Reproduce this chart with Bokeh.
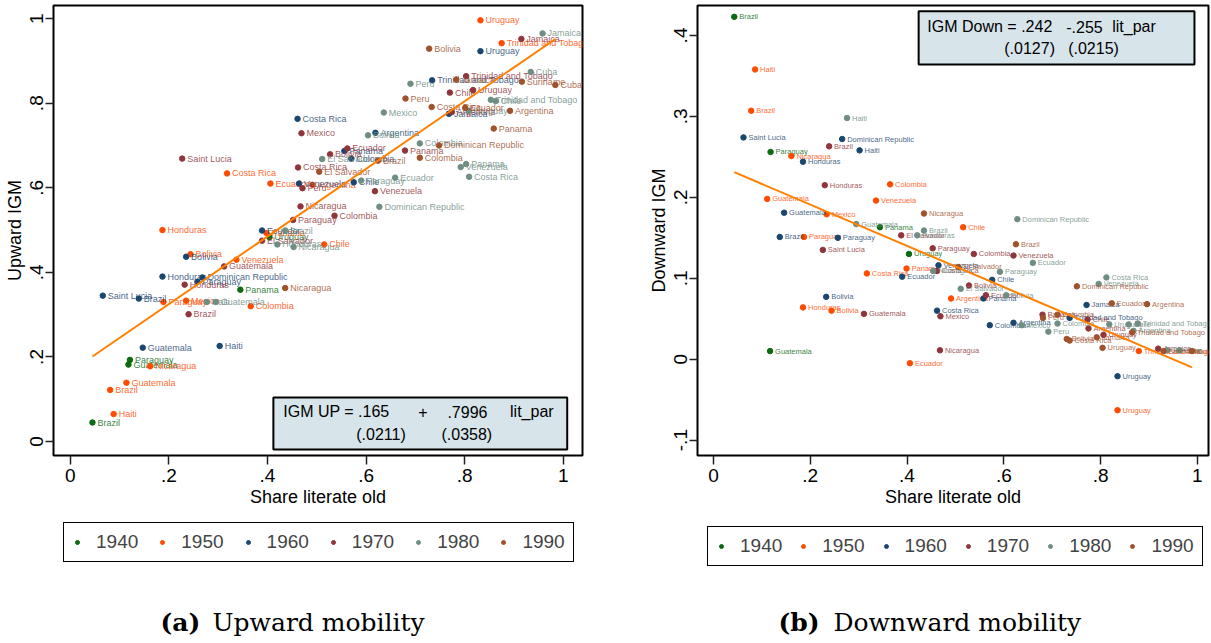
from bokeh.plotting import figure
from bokeh.models import (ColumnDataSource, Legend, LegendItem, FixedTicker,
                          Label, BoxAnnotation, Range1d)
from bokeh.layouts import row, column
from bokeh.core.properties import value
from bokeh.embed import file_html
from bokeh.resources import INLINE

# ---------------- data ----------------
decades = [1940, 1950, 1960, 1970, 1980, 1990]
decade_colors = ["#0b6a12", "#ff4b00", "#1a476f", "#90353b", "#6e8e84", "#a0522d"]

x_ticks = [0, 0.2, 0.4, 0.6, 0.8, 1.0]
x_tick_labels = ["0", ".2", ".4", ".6", ".8", "1"]
up_ticks = [0, 0.2, 0.4, 0.6, 0.8, 1.0]
up_tick_labels = ["0", ".2", ".4", ".6", ".8", "1"]
down_ticks = [-0.1, 0, 0.1, 0.2, 0.3, 0.4]
down_tick_labels = ["-.1", "0", ".1", ".2", ".3", ".4"]

up_coef = [0.165, 0.7996]
down_coef = [0.242, -0.255]

# Upward mobility panel
up_country = [
    "Brazil", "Guatemala", "Paraguay", "Panama", "Uruguay",
    "Haiti", "Brazil", "Guatemala", "Nicaragua", "Paraguay", "Mexico", "Honduras",
    "Bolivia", "Venezuela", "Colombia", "Panama", "Chile", "Costa Rica", "Ecuador",
    "Argentina", "Trinidad and Tobago", "Uruguay",
    "Saint Lucia", "Brazil", "Guatemala", "Honduras", "Bolivia", "Paraguay",
    "Dominican Republic", "Haiti", "Ecuador", "Venezuela", "Costa Rica", "Panama",
    "Colombia", "Chile", "Argentina", "Trinidad and Tobago", "Jamaica", "Uruguay",
    "Saint Lucia", "Brazil", "Honduras", "Guatemala", "El Salvador", "Paraguay",
    "Nicaragua", "Costa Rica", "Mexico", "Peru", "Bolivia", "Colombia", "Ecuador",
    "Venezuela", "Panama", "Chile", "Argentina", "Trinidad and Tobago", "Uruguay",
    "Jamaica",
    "Haiti", "Guatemala", "Honduras", "Brazil", "Nicaragua", "El Salvador",
    "Paraguay", "Bolivia", "Dominican Republic", "Mexico", "Ecuador", "Peru",
    "Colombia", "Venezuela", "Panama", "Costa Rica", "Uruguay",
    "Trinidad and Tobago", "Chile", "Cuba", "Jamaica",
    "Nicaragua", "El Salvador", "Brazil", "Peru", "Colombia", "Bolivia",
    "Costa Rica", "Dominican Republic", "Jamaica", "Ecuador", "Panama",
    "Argentina", "Suriname", "Cuba",
]
up_decade = ([1940] * 5 + [1950] * 17 + [1960] * 18 + [1970] * 20
             + [1980] * 21 + [1990] * 14)
up_lit = [
    0.045, 0.118, 0.121, 0.345, 0.404,
    0.088, 0.081, 0.114, 0.162, 0.189, 0.235, 0.187, 0.244, 0.337, 0.366, 0.398,
    0.515, 0.318, 0.406, 0.491, 0.875, 0.832,
    0.066, 0.139, 0.147, 0.187, 0.235, 0.258, 0.268, 0.303, 0.389, 0.464, 0.461,
    0.556, 0.570, 0.575, 0.619, 0.734, 0.768, 0.832,
    0.227, 0.240, 0.232, 0.312, 0.389, 0.452, 0.467, 0.462, 0.469, 0.471, 0.527,
    0.536, 0.562, 0.618, 0.679, 0.770, 0.774, 0.803, 0.817, 0.915,
    0.277, 0.295, 0.420, 0.436, 0.453, 0.511, 0.590, 0.604, 0.627, 0.636, 0.659,
    0.690, 0.709, 0.792, 0.803, 0.809, 0.808, 0.853, 0.863, 0.934, 0.958,
    0.436, 0.505, 0.624, 0.680, 0.709, 0.728, 0.733, 0.748, 0.783, 0.801, 0.859,
    0.892, 0.916, 0.984,
]
up_igm = [
    0.045, 0.182, 0.193, 0.359, 0.483,
    0.065, 0.122, 0.139, 0.178, 0.330, 0.333, 0.500, 0.443, 0.430, 0.320, 0.493,
    0.466, 0.634, 0.610, 0.607, 0.942, 0.996,
    0.345, 0.338, 0.222, 0.390, 0.437, 0.378, 0.388, 0.226, 0.499, 0.610, 0.763,
    0.687, 0.669, 0.613, 0.730, 0.854, 0.775, 0.923,
    0.669, 0.301, 0.371, 0.414, 0.475, 0.524, 0.556, 0.648, 0.729, 0.599, 0.679,
    0.534, 0.693, 0.592, 0.688, 0.825, 0.779, 0.864, 0.831, 0.952,
    0.330, 0.330, 0.466, 0.499, 0.460, 0.668, 0.617, 0.724, 0.555, 0.778, 0.624,
    0.846, 0.705, 0.649, 0.656, 0.626, 0.782, 0.808, 0.805, 0.874, 0.965,
    0.363, 0.638, 0.664, 0.811, 0.671, 0.929, 0.791, 0.700, 0.856, 0.789, 0.740,
    0.782, 0.851, 0.843,
]

# Downward mobility panel
down_country = [
    "Brazil", "Paraguay", "Guatemala", "Panama", "Uruguay",
    "Haiti", "Brazil", "Nicaragua", "Guatemala", "Paraguay", "Mexico", "Honduras",
    "Bolivia", "Venezuela", "Colombia", "Costa Rica", "Panama", "Ecuador",
    "Argentina", "Chile", "Trinidad and Tobago", "Uruguay",
    "Saint Lucia", "Brazil", "Guatemala", "Honduras", "Bolivia", "Paraguay",
    "Dominican Republic", "Haiti", "Ecuador", "Costa Rica", "Venezuela", "Panama",
    "Colombia", "Chile", "Argentina", "Trinidad and Tobago", "Jamaica", "Uruguay",
    "Saint Lucia", "Brazil", "Honduras", "Guatemala", "El Salvador", "Paraguay",
    "Costa Rica", "Mexico", "Nicaragua", "Bolivia", "Colombia", "Ecuador",
    "Venezuela", "Panama", "Chile", "Argentina", "Uruguay", "Jamaica",
    "Haiti", "Guatemala", "Honduras", "Brazil", "Nicaragua", "El Salvador",
    "Paraguay", "Bolivia", "Dominican Republic", "Mexico", "Ecuador", "Peru",
    "Colombia", "Venezuela", "Costa Rica", "Trinidad and Tobago", "Uruguay",
    "Chile", "Argentina", "Jamaica", "Cuba",
    "Nicaragua", "El Salvador", "Brazil", "Peru", "Colombia", "Bolivia",
    "Costa Rica", "Dominican Republic", "Jamaica", "Uruguay", "Ecuador",
    "Trinidad and Tobago", "Argentina", "Suriname", "Cuba",
]
down_decade = ([1940] * 5 + [1950] * 17 + [1960] * 18 + [1970] * 18
               + [1980] * 21 + [1990] * 15)
down_lit = [
    0.043, 0.118, 0.117, 0.344, 0.404,
    0.086, 0.078, 0.161, 0.111, 0.187, 0.234, 0.185, 0.244, 0.336, 0.365, 0.317,
    0.399, 0.406, 0.491, 0.516, 0.879, 0.835,
    0.062, 0.137, 0.146, 0.185, 0.233, 0.257, 0.266, 0.302, 0.390, 0.462, 0.465,
    0.558, 0.571, 0.576, 0.620, 0.736, 0.771, 0.835,
    0.226, 0.239, 0.230, 0.311, 0.388, 0.453, 0.462, 0.469, 0.468, 0.528, 0.538,
    0.563, 0.620, 0.680, 0.773, 0.775, 0.806, 0.919,
    0.276, 0.295, 0.421, 0.435, 0.454, 0.511, 0.592, 0.605, 0.628, 0.637, 0.660,
    0.692, 0.711, 0.796, 0.812, 0.877, 0.818, 0.858, 0.868, 0.937, 0.963,
    0.435, 0.506, 0.625, 0.681, 0.711, 0.730, 0.736, 0.751, 0.792, 0.804, 0.823,
    0.865, 0.896, 0.930, 0.989,
]
down_igm = [
    0.423, 0.256, 0.010, 0.163, 0.130,
    0.358, 0.307, 0.251, 0.198, 0.151, 0.179, 0.064, 0.060, 0.196, 0.216, 0.106,
    0.112, -0.005, 0.075, 0.163, 0.010, -0.063,
    0.274, 0.151, 0.181, 0.244, 0.077, 0.150, 0.272, 0.258, 0.102, 0.060, 0.116,
    0.075, 0.042, 0.098, 0.045, 0.051, 0.067, -0.021,
    0.135, 0.263, 0.215, 0.056, 0.153, 0.137, 0.109, 0.053, 0.011, 0.091, 0.130,
    0.079, 0.128, 0.055, 0.049, 0.038, 0.030, 0.013,
    0.298, 0.167, 0.153, 0.159, 0.109, 0.087, 0.108, 0.079, 0.173, 0.042, 0.119,
    0.034, 0.044, 0.093, 0.101, 0.044, 0.043, 0.043, 0.035, 0.011, 0.011,
    0.180, 0.114, 0.142, 0.051, 0.055, 0.025, 0.023, 0.090, 0.027, 0.014, 0.069,
    0.033, 0.068, 0.010, 0.010,
]

# ---------------- styling ----------------
AXFONT = "Liberation Sans"
PTFONT = "Liberation Sans"
SERIF = "DejaVu Serif"
FIG_H = 515          # main panels (plot + x axis)
FRAME_TOP = 5
FRAME_BOTTOM = 455
STRIP_H = 128        # legends + captions


def make_panel(country, decade, lit, igm, coef, xr, yr, yticks, ylabels, ylab,
               width, bl, br, label_size, box, box_texts):
    p = figure(width=width, height=FIG_H, x_range=Range1d(*xr), y_range=Range1d(*yr),
               output_backend="svg", toolbar_location=None,
               min_border_left=bl, min_border_right=br, min_border_top=FRAME_TOP,
               min_border_bottom=FIG_H - FRAME_BOTTOM)
    p.grid.visible = False
    p.outline_line_color = "black"
    p.outline_line_width = 2
    p.background_fill_color = "white"
    p.border_fill_color = "white"

    sources = []
    for d, c in zip(decades, decade_colors):
        idx = [i for i, v in enumerate(decade) if v == d]
        src = ColumnDataSource(dict(x=[lit[i] for i in idx],
                                    y=[igm[i] for i in idx],
                                    name=[country[i] for i in idx]))
        p.scatter("x", "y", source=src, size=5.5, color=c)
        p.text("x", "y", text="name", source=src, x_offset=5, text_baseline="middle",
               text_font_size=label_size, text_color=c, text_alpha=0.85,
               text_font=value(PTFONT))
        sources.append(src)

    x0, x1 = min(lit), max(lit)
    p.line([x0, x1], [coef[0] + coef[1] * x0, coef[0] + coef[1] * x1],
           line_color="#ff8000", line_width=2)

    # coefficient box
    p.add_layout(BoxAnnotation(left=box[0], right=box[1], bottom=box[2], top=box[3],
                               fill_color="#d7e4ea", fill_alpha=1.0,
                               line_color="black", line_width=2, line_alpha=1.0))
    for (tx, ty, tt) in box_texts:
        p.add_layout(Label(x=tx, y=ty, text=tt, text_font=AXFONT,
                           text_font_size="16px", text_baseline="middle",
                           text_color="black"))

    for ax in (p.xaxis[0], p.yaxis[0]):
        ax.axis_line_color = None
        ax.major_tick_in = 0
        ax.minor_tick_line_color = None
        ax.major_tick_line_color = "#222222"
        ax.major_tick_line_width = 1.5
        ax.major_label_text_font_size = "19px"
        ax.major_label_text_font = AXFONT
        ax.major_label_text_color = "black"
        ax.axis_label_text_font_size = "18px"
        ax.axis_label_text_font_style = "normal"
        ax.axis_label_text_font = AXFONT
        ax.axis_label_text_color = "black"
    p.xaxis.major_tick_out = 9
    p.xaxis.major_label_standoff = 4
    p.xaxis.axis_label_standoff = 2
    p.yaxis.major_tick_out = 8
    p.yaxis.major_label_standoff = 2
    p.yaxis.axis_label_standoff = 3

    p.xaxis.ticker = FixedTicker(ticks=x_ticks)
    p.xaxis.major_label_overrides = dict(zip(x_ticks, x_tick_labels))
    p.xaxis.axis_label = "Share literate old"
    p.yaxis.ticker = FixedTicker(ticks=yticks)
    p.yaxis.major_label_overrides = dict(zip(yticks, ylabels))
    p.yaxis.major_label_orientation = "vertical"
    p.yaxis.axis_label = ylab
    return p, sources


p_up, up_sources = make_panel(
    up_country, up_decade, up_lit, up_igm, up_coef,
    (-0.034, 1.039), (-0.033, 1.031), up_ticks, up_tick_labels, "Upward IGM",
    640, 53, 58, "9px",
    (0.412, 1.008, -0.019, 0.104),
    [(0.432, 0.071, "IGM UP = .165"), (0.706, 0.071, "+"),
     (0.765, 0.071, ".7996"), (0.892, 0.071, "lit_par"),
     (0.580, 0.017, "(.0211)"), (0.753, 0.017, "(.0358)")])

p_down, down_sources = make_panel(
    down_country, down_decade, down_lit, down_igm, down_coef,
    (-0.033, 1.023), (-0.119, 0.437), down_ticks, down_tick_labels, "Downward IGM",
    571, 57, 3, "7.5px",
    (0.424, 0.994, 0.364, 0.430),
    [(0.442, 0.411, "IGM Down = .242"), (0.729, 0.411, "-.255"),
     (0.824, 0.411, "lit_par"),
     (0.601, 0.384, "(.0127)"), (0.733, 0.384, "(.0215)")])

# strip with legends and captions
strip = figure(width=1211, height=STRIP_H, x_range=Range1d(0, 1211),
               y_range=Range1d(0, STRIP_H), output_backend="svg",
               toolbar_location=None, min_border=0, x_axis_type=None, y_axis_type=None)
strip.grid.visible = False
strip.outline_line_color = None

for sources, loc, sp in [(up_sources, (63, 81), 19), (down_sources, (707, 77), 16)]:
    items = []
    for d, c, src in zip(decades, decade_colors, sources):
        r = strip.scatter("x", "y", source=src, size=5.5, color=c, visible=False)
        items.append(LegendItem(label=str(d), renderers=[r]))
    leg = Legend(items=items, orientation="horizontal", location=loc,
                 border_line_color="black", border_line_width=1.5, border_line_alpha=1.0,
                 background_fill_color="white", background_fill_alpha=1.0,
                 label_text_font=AXFONT, label_text_font_size="19px",
                 glyph_width=10, glyph_height=10, label_standoff=14,
                 spacing=sp, padding=8, margin=0)
    strip.add_layout(leg, "center")

for (tx, tt, st) in [(160, "(a)", "bold"), (212, "Upward mobility", "normal"),
                     (778, "(b)", "bold"), (833, "Downward mobility", "normal")]:
    strip.add_layout(Label(x=tx, y=21, text=tt, text_font=SERIF, text_font_size="25px",
                           text_font_style=st, text_baseline="middle", text_color="black"))

layout = column(row(p_up, p_down), strip)
open("out.html", "w").write(file_html(layout, INLINE))
